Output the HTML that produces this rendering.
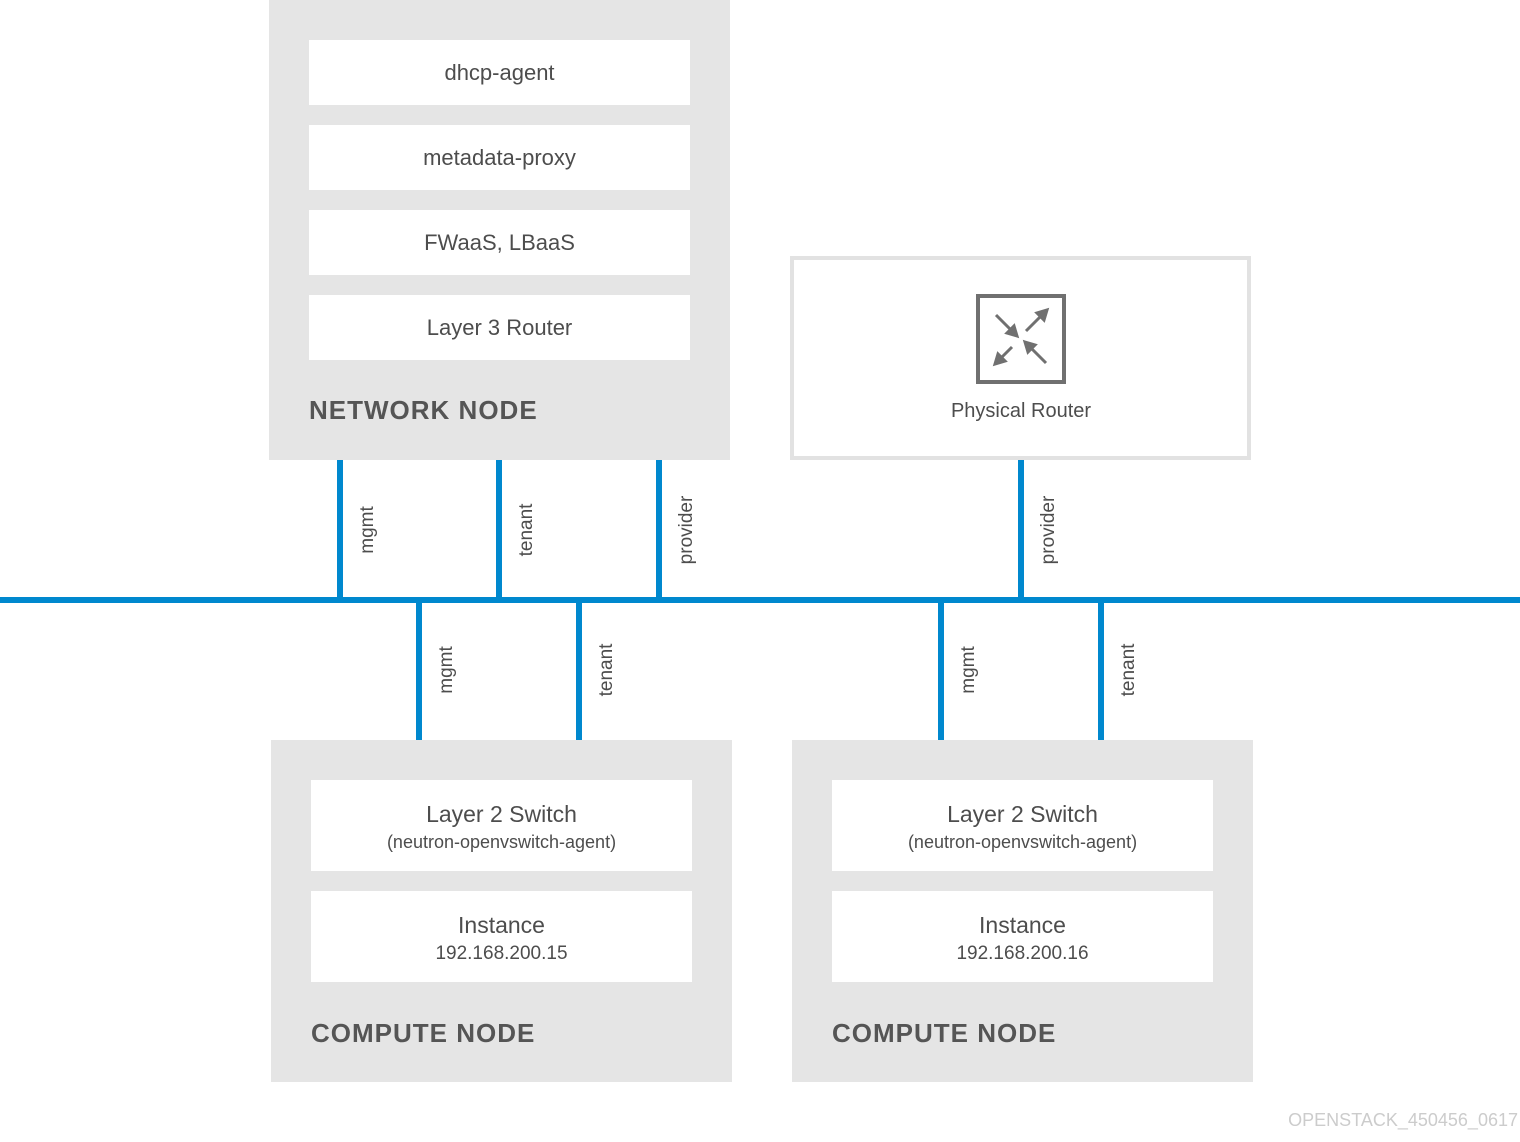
<!DOCTYPE html>
<html><head><style>
html,body{margin:0;padding:0;background:#fff;}
svg{display:block;font-family:"Liberation Sans",sans-serif;}
</style></head><body>
<svg width="1520" height="1142" viewBox="0 0 1520 1142" xmlns="http://www.w3.org/2000/svg">
<rect x="269" y="0" width="461" height="460" fill="#e5e5e5"/>
<g fill="#fff">
<rect x="309" y="40" width="381" height="65"/>
<rect x="309" y="125" width="381" height="65"/>
<rect x="309" y="210" width="381" height="65"/>
<rect x="309" y="295" width="381" height="65"/>
</g>
<g fill="#4d4d4d" font-size="22" text-anchor="middle">
<text x="499.5" y="80">dhcp-agent</text>
<text x="499.5" y="165">metadata-proxy</text>
<text x="499.5" y="250">FWaaS, LBaaS</text>
<text x="499.5" y="335">Layer 3 Router</text>
</g>
<text x="309" y="419" font-size="26" font-weight="bold" fill="#555" letter-spacing="1">NETWORK NODE</text>

<rect x="792" y="258" width="457" height="200" fill="#fff" stroke="#e2e2e2" stroke-width="4"/>
<rect x="978" y="296" width="86" height="86" fill="none" stroke="#707070" stroke-width="4"/>
<g stroke="#707070" stroke-width="3" fill="#707070">
<line x1="996" y1="315" x2="1012" y2="331"/><polygon points="1017,336 1007,333 1014,326"/>
<line x1="1026" y1="331" x2="1042" y2="315"/><polygon points="1047,310 1044,320 1037,313"/>
<line x1="1012" y1="347" x2="1000" y2="359"/><polygon points="995,364 998,354 1005,361"/>
<line x1="1046" y1="363" x2="1030" y2="347"/><polygon points="1025,342 1035,345 1028,352"/>
</g>
<text x="1021" y="417" font-size="20" fill="#4d4d4d" text-anchor="middle">Physical Router</text>

<g stroke="#0088ce" stroke-width="6">
<line x1="0" y1="600" x2="1520" y2="600"/>
<line x1="340" y1="460" x2="340" y2="600"/>
<line x1="499" y1="460" x2="499" y2="600"/>
<line x1="659" y1="460" x2="659" y2="600"/>
<line x1="1021" y1="460" x2="1021" y2="600"/>
<line x1="419" y1="600" x2="419" y2="740"/>
<line x1="579" y1="600" x2="579" y2="740"/>
<line x1="941" y1="600" x2="941" y2="740"/>
<line x1="1101" y1="600" x2="1101" y2="740"/>
</g>
<g fill="#4d4d4d" font-size="19" text-anchor="middle">
<text transform="translate(373,530) rotate(-90)">mgmt</text>
<text transform="translate(532,530) rotate(-90)">tenant</text>
<text transform="translate(692,530) rotate(-90)">provider</text>
<text transform="translate(1054,530) rotate(-90)">provider</text>
<text transform="translate(452,670) rotate(-90)">mgmt</text>
<text transform="translate(612,670) rotate(-90)">tenant</text>
<text transform="translate(974,670) rotate(-90)">mgmt</text>
<text transform="translate(1134,670) rotate(-90)">tenant</text>
</g>

<rect x="271" y="740" width="461" height="342" fill="#e5e5e5"/>
<rect x="792" y="740" width="461" height="342" fill="#e5e5e5"/>
<g fill="#fff">
<rect x="311" y="780" width="381" height="91"/>
<rect x="311" y="891" width="381" height="91"/>
<rect x="832" y="780" width="381" height="91"/>
<rect x="832" y="891" width="381" height="91"/>
</g>
<g fill="#4d4d4d" text-anchor="middle">
<text x="501.5" y="822" font-size="23">Layer 2 Switch</text>
<text x="501.5" y="848" font-size="18">(neutron-openvswitch-agent)</text>
<text x="501.5" y="933" font-size="23">Instance</text>
<text x="501.5" y="959" font-size="19">192.168.200.15</text>
<text x="1022.5" y="822" font-size="23">Layer 2 Switch</text>
<text x="1022.5" y="848" font-size="18">(neutron-openvswitch-agent)</text>
<text x="1022.5" y="933" font-size="23">Instance</text>
<text x="1022.5" y="959" font-size="19">192.168.200.16</text>
</g>
<text x="311" y="1042" font-size="26" font-weight="bold" fill="#555" letter-spacing="1">COMPUTE NODE</text>
<text x="832" y="1042" font-size="26" font-weight="bold" fill="#555" letter-spacing="1">COMPUTE NODE</text>

<text x="1518" y="1126" font-size="18" fill="#cccccc" text-anchor="end">OPENSTACK_450456_0617</text>
</svg>
</body></html>
